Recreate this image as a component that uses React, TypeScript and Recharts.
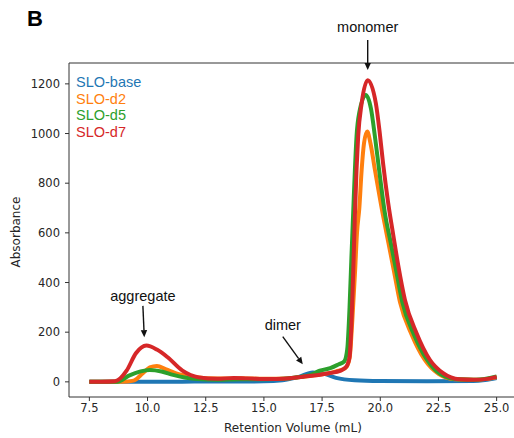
import React from 'react'
import {
  LineChart, Line, XAxis, YAxis, Legend, ReferenceLine,
} from 'recharts'

// SEC traces: retention volume (mL) vs absorbance, one pair of arrays per construct
const baseVol = [7.5, 9.0, 12.0, 15.0, 15.8, 16.5, 17.1, 17.6, 18.1, 18.9, 20.0, 22.0, 24.0, 24.5, 25.0]
const baseAbs = [0, 0, 1, 2, 6, 20, 38, 32, 16, 6, 3, 2, 3, 7, 15]

const d2Vol = [7.5, 8.9, 9.4, 9.8, 10.1, 10.4, 10.8, 11.2, 12.0, 13.0, 14.0, 15.0, 16.0, 16.8, 17.5, 18.1, 18.5, 18.68, 18.8, 18.92, 19.0, 19.1, 19.2, 19.3, 19.44, 19.58, 19.77, 20.1, 20.35, 20.6, 20.85, 21.35, 21.9, 22.5, 23.2, 24.0, 24.6, 25.0]
const d2Abs = [0, 0, 5, 35, 58, 64, 50, 35, 20, 13, 15, 12, 14, 22, 30, 42, 55, 95, 250, 450, 600, 700, 854, 960, 1008, 960, 854, 679, 560, 440, 320, 190, 90, 32, 10, 8, 12, 18]

const d5Vol = [7.5, 8.7, 9.2, 9.7, 10.1, 10.6, 11.1, 12.0, 13.0, 14.0, 15.0, 16.0, 17.0, 17.4, 17.85, 18.2, 18.45, 18.58, 18.68, 18.76, 18.84, 18.91, 18.98, 19.1, 19.38, 19.6, 19.77, 19.95, 20.2, 20.45, 20.7, 20.95, 21.45, 22.0, 22.6, 23.3, 24.0, 24.6, 25.0]
const d5Abs = [0, 0, 25, 42, 48, 42, 28, 12, 8, 10, 10, 14, 28, 45, 55, 70, 82, 130, 300, 500, 690, 854, 988, 1085, 1155, 1100, 988, 854, 679, 560, 440, 320, 190, 90, 30, 10, 8, 14, 22]

const d7Vol = [7.5, 8.0, 8.6, 9.1, 9.5, 9.95, 10.4, 10.85, 11.5, 12.2, 13.0, 13.7, 14.3, 15.3, 16.7, 17.8, 18.3, 18.55, 18.68, 18.76, 18.84, 18.91, 18.98, 19.05, 19.2, 19.46, 19.81, 19.98, 20.12, 20.34, 20.56, 20.77, 21.06, 21.56, 22.13, 22.7, 23.4, 24.0, 24.6, 25.0]
const d7Abs = [0, 0, 2, 45, 115, 146, 130, 100, 45, 18, 12, 16, 14, 11, 21, 35, 45, 62, 100, 230, 450, 670, 854, 988, 1122, 1215, 1122, 1000, 880, 720, 590, 470, 330, 196, 89, 35, 10, 8, 12, 20]

const xTicks = [7.5, 10.0, 12.5, 15.0, 17.5, 20.0, 22.5, 25.0]
const yTicks = [0, 200, 400, 600, 800, 1000, 1200]

const toPoints = (vol: number[], abs: number[]) => vol.map((v, i) => ({ vol: v, abs: abs[i] }))

const SERIES = [
  { name: 'SLO-base', color: '#1f77b4', data: toPoints(baseVol, baseAbs) },
  { name: 'SLO-d2', color: '#ff7f0e', data: toPoints(d2Vol, d2Abs) },
  { name: 'SLO-d5', color: '#2ca02c', data: toPoints(d5Vol, d5Abs) },
  { name: 'SLO-d7', color: '#d62728', data: toPoints(d7Vol, d7Abs) },
]

// peak callouts, in data coordinates: text sits above the arrow tail
const ANNOTATIONS = [
  { text: 'monomer', from: [19.46, 1377], to: [19.46, 1256], gap: 8 },
  { text: 'aggregate', from: [9.8, 306], to: [9.86, 180], gap: 4.5 },
  { text: 'dimer', from: [15.81, 182], to: [16.67, 71], gap: 6.5 },
]

const X_DOMAIN: [number, number] = [6.625, 25.875]
const Y_DOMAIN: [number, number] = [-61, 1284]

const AXIS = '#333'
const TICK_FONT = { fontSize: 11.5, fill: '#262626', fontFamily: '"DejaVu Sans", sans-serif' }
const SANS = '"Liberation Sans", Arial, Helvetica, sans-serif'

const arrowShape = (text: string, gap: number) => (p: any) => {
  const { x1, y1, x2, y2 } = p
  const dx = x2 - x1
  const dy = y2 - y1
  const len = Math.hypot(dx, dy) || 1
  const ux = dx / len
  const uy = dy / len
  const hl = 7
  const hw = 3.2
  const bx = x2 - ux * hl
  const by = y2 - uy * hl
  return (
    <g>
      <text x={x1} y={y1 - gap} textAnchor="middle" fontSize={14.5} fontFamily={SANS} fill="#111">{text}</text>
      <line x1={x1} y1={y1} x2={bx} y2={by} stroke="#111" strokeWidth={1.4} />
      <polygon
        points={`${x2},${y2} ${bx - uy * hw},${by + ux * hw} ${bx + uy * hw},${by - ux * hw}`}
        fill="#111"
      />
    </g>
  )
}

const LegendList = ({ payload }: any) => (
  <div style={{ fontFamily: SANS, fontSize: 14.5, lineHeight: '16.5px' }}>
    {(payload ?? []).map((e: any) => (
      <div key={e.value} style={{ color: e.color }}>{e.value}</div>
    ))}
  </div>
)

export default function App() {
  return (
    <div style={{
      position: 'absolute', left: 0, top: 0, width: 514, height: 438,
      overflow: 'hidden', background: '#fff',
    }}>
      <div style={{
        position: 'absolute', left: 27, top: 5, fontFamily: SANS,
        fontWeight: 700, fontSize: 22, lineHeight: '28px', color: '#000',
      }}>B</div>
      <LineChart width={530} height={438} margin={{ top: 63, right: 13, bottom: 11, left: 24 }}>
        <XAxis
          dataKey="vol"
          type="number"
          domain={X_DOMAIN}
          allowDataOverflow
          ticks={xTicks}
          tickFormatter={(v: number) => v.toFixed(1)}
          tick={TICK_FONT}
          tickSize={4}
          tickMargin={3}
          stroke={AXIS}
          height={30}
          label={{
            content: ({ viewBox }: any) => (
              <text
                x={viewBox.x + viewBox.width / 2}
                y={viewBox.y + 35}
                textAnchor="middle"
                fontSize={12}
                fontFamily='"DejaVu Sans", sans-serif'
                fill="#262626"
              >Retention Volume (mL)</text>
            ),
          }}
        />
        <YAxis
          type="number"
          domain={Y_DOMAIN}
          allowDataOverflow
          ticks={yTicks}
          tick={TICK_FONT}
          tickSize={4}
          tickMargin={5}
          stroke={AXIS}
          width={45}
          label={{
            content: ({ viewBox }: any) => {
              const cx = viewBox.x - 4
              const cy = viewBox.y + viewBox.height / 2 + 2
              return (
                <text
                  x={cx}
                  y={cy}
                  transform={`rotate(-90 ${cx} ${cy})`}
                  textAnchor="middle"
                  fontSize={12}
                  fontFamily='"DejaVu Sans", sans-serif'
                  fill="#262626"
                >Absorbance</text>
              )
            },
          }}
        />
        <ReferenceLine y={Y_DOMAIN[1]} stroke={AXIS} ifOverflow="visible" />
        <Legend
          layout="vertical"
          align="center"
          verticalAlign="middle"
          wrapperStyle={{ left: 76, top: 74, width: 'auto' }}
          content={<LegendList />}
        />
        {SERIES.map(s => (
          <Line
            key={s.name}
            data={s.data}
            dataKey="abs"
            name={s.name}
            type="monotone"
            stroke={s.color}
            strokeWidth={4}
            dot={false}
            activeDot={false}
            isAnimationActive={false}
          />
        ))}
        {ANNOTATIONS.map(a => (
          <ReferenceLine
            key={a.text}
            segment={[{ x: a.from[0], y: a.from[1] }, { x: a.to[0], y: a.to[1] }]}
            ifOverflow="visible"
            shape={arrowShape(a.text, a.gap)}
          />
        ))}
      </LineChart>
    </div>
  )
}
